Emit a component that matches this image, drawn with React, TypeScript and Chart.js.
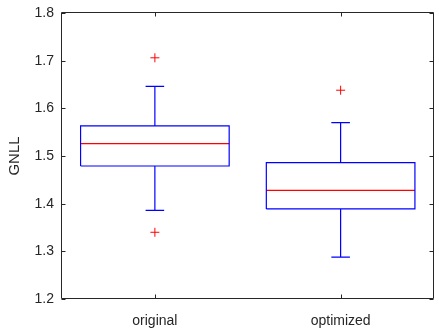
import React, { useEffect, useRef } from "react";
import { Chart, registerables } from "chart.js";

Chart.register(...registerables);

const categories = ["original", "optimized"];
const whiskerLow = [1.386, 1.288];
const q1 = [1.479, 1.389];
const median = [1.526, 1.428];
const q3 = [1.563, 1.486];
const whiskerHigh = [1.646, 1.570];
const outliers = [[1.706, 1.340], [1.638]];
const yTicks = [1.2, 1.3, 1.4, 1.5, 1.6, 1.7, 1.8];

const BOX_HALF = 0.4;
const CAP_HALF = 0.05;
const AXIS_COLOR = "#262626";
const FONT = "'Liberation Sans', Arial, Helvetica, sans-serif";

type P = { x: number; y: number | null };

function buildBoxes(): P[] {
  const pts: P[] = [];
  categories.forEach((_, i) => {
    const x = i + 1;
    pts.push({ x: x - BOX_HALF, y: q1[i] });
    pts.push({ x: x + BOX_HALF, y: q1[i] });
    pts.push({ x: x + BOX_HALF, y: q3[i] });
    pts.push({ x: x - BOX_HALF, y: q3[i] });
    pts.push({ x: x - BOX_HALF, y: q1[i] });
    pts.push({ x: x, y: null });
  });
  return pts;
}

function buildWhiskers(): P[] {
  const pts: P[] = [];
  categories.forEach((_, i) => {
    const x = i + 1;
    pts.push({ x, y: q3[i] }, { x, y: whiskerHigh[i] }, { x, y: null });
    pts.push({ x, y: q1[i] }, { x, y: whiskerLow[i] }, { x, y: null });
    pts.push({ x: x - CAP_HALF, y: whiskerHigh[i] }, { x: x + CAP_HALF, y: whiskerHigh[i] }, { x, y: null });
    pts.push({ x: x - CAP_HALF, y: whiskerLow[i] }, { x: x + CAP_HALF, y: whiskerLow[i] }, { x, y: null });
  });
  return pts;
}

function buildMedians(): P[] {
  const pts: P[] = [];
  categories.forEach((_, i) => {
    const x = i + 1;
    pts.push({ x: x - BOX_HALF, y: median[i] }, { x: x + BOX_HALF, y: median[i] }, { x, y: null });
  });
  return pts;
}

function buildOutliers(): P[] {
  const pts: P[] = [];
  outliers.forEach((arr, i) => arr.forEach((v) => pts.push({ x: i + 1, y: v })));
  return pts;
}

const framePlugin = {
  id: "frame",
  afterDraw(chart: any) {
    const { ctx, chartArea } = chart;
    const xs = chart.scales.x;
    const ys = chart.scales.y;
    const l = Math.round(chartArea.left) - 0.5;
    const r = Math.round(chartArea.right) - 0.5;
    const t = Math.round(chartArea.top) - 0.5;
    const b = Math.round(chartArea.bottom) - 0.5;
    const tl = 4;
    ctx.save();
    ctx.strokeStyle = AXIS_COLOR;
    ctx.lineWidth = 1;
    ctx.beginPath();
    ctx.rect(l, t, r - l, b - t);
    yTicks.forEach((v) => {
      const y = Math.round(ys.getPixelForValue(v)) + 0.5;
      ctx.moveTo(l, y);
      ctx.lineTo(l + tl, y);
      ctx.moveTo(r, y);
      ctx.lineTo(r - tl, y);
    });
    categories.forEach((_, i) => {
      const x = Math.round(xs.getPixelForValue(i + 1)) + 0.5;
      ctx.moveTo(x, b);
      ctx.lineTo(x, b - tl);
      ctx.moveTo(x, t);
      ctx.lineTo(x, t + tl);
    });
    ctx.stroke();
    ctx.restore();
  },
};

export default function App() {
  const ref = useRef<HTMLCanvasElement | null>(null);
  useEffect(() => {
    if (!ref.current) return;
    const lineDs = (data: P[], color: string) => ({
      type: "line" as const,
      data,
      borderColor: color,
      backgroundColor: color,
      borderWidth: 1.2,
      pointRadius: 0,
      spanGaps: false,
      fill: false,
      tension: 0,
    });
    const chart = new Chart(ref.current, {
      type: "line",
      data: {
        datasets: [
          lineDs(buildBoxes(), "#0000ff") as any,
          lineDs(buildWhiskers(), "#0000ff") as any,
          lineDs(buildMedians(), "#ff0000") as any,
          {
            type: "scatter",
            data: buildOutliers(),
            pointStyle: "cross",
            pointRadius: 4.5,
            borderColor: "#ff0000",
            backgroundColor: "#ff0000",
            borderWidth: 1,
            showLine: false,
          } as any,
        ],
      },
      options: {
        responsive: false,
        animation: false,
        events: [],
        layout: { padding: { top: 13, right: 2, left: 0, bottom: 0 } },
        plugins: { legend: { display: false }, tooltip: { enabled: false } },
        scales: {
          x: {
            type: "linear",
            min: 0.5,
            max: 2.5,
            afterBuildTicks: (s: any) => {
              s.ticks = categories.map((_, i) => ({ value: i + 1 }));
            },
            afterFit: (s: any) => {
              s.height = 30;
              s.paddingLeft = 0;
              s.paddingRight = 0;
            },
            grid: { display: false, drawTicks: false },
            border: { display: false },
            ticks: {
              autoSkip: false,
              maxRotation: 0,
              padding: 14,
              color: AXIS_COLOR,
              font: { family: FONT, size: 14 },
              callback: (v: any) => categories[Number(v) - 1] ?? "",
            },
          },
          y: {
            type: "linear",
            min: 1.2,
            max: 1.8,
            afterBuildTicks: (s: any) => {
              s.ticks = yTicks.map((v) => ({ value: v }));
            },
            afterFit: (s: any) => {
              s.width = 62;
              s.paddingTop = 0;
              s.paddingBottom = 0;
            },
            grid: { display: false, drawTicks: false },
            border: { display: false },
            title: {
              display: true,
              text: "GNLL",
              color: AXIS_COLOR,
              font: { family: FONT, size: 15 },
              padding: { top: 6, bottom: 0 },
            },
            ticks: {
              padding: 8,
              color: AXIS_COLOR,
              font: { family: FONT, size: 14 },
              callback: (v: any) => Number(v).toFixed(1),
            },
          },
        },
      },
      plugins: [framePlugin],
    });
    return () => chart.destroy();
  }, []);
  return (
    <div style={{ position: "absolute", left: 0, top: 0, background: "#fff" }}>
      <canvas ref={ref} width={439} height={329} style={{ display: "block" }} />
    </div>
  );
}
